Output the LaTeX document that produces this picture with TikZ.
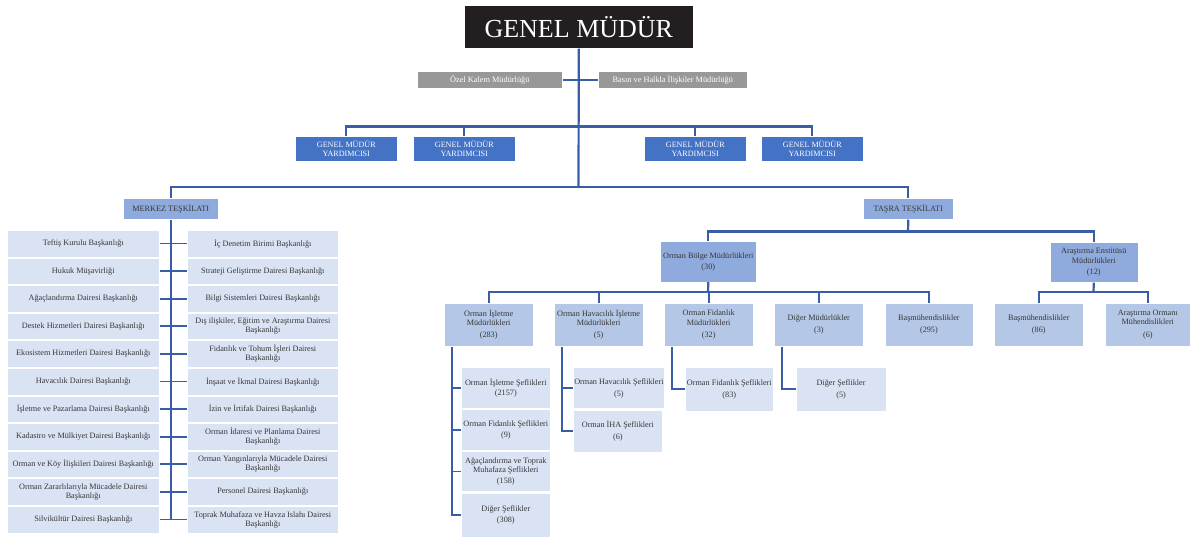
\documentclass[tikz,border=0pt]{standalone}
\usepackage{fontspec}
\setmainfont{Liberation Serif}
\definecolor{gmblack}{RGB}{35,31,32}
\definecolor{grayb}{RGB}{152,152,152}
\definecolor{blueA}{RGB}{68,114,196}
\definecolor{blueB}{RGB}{143,170,220}
\definecolor{blueC}{RGB}{180,199,231}
\definecolor{blueD}{RGB}{218,227,243}
\definecolor{linec}{RGB}{58,94,166}
\definecolor{textc}{RGB}{55,55,55}
\begin{document}
\begin{tikzpicture}[x=1pt,y=-1pt,
  box/.style={anchor=north west, inner sep=1pt, align=center, draw=white, line width=0.6pt},
  gmbox/.style={box, fill=gmblack, text=white, font=\fontsize{26}{28}\selectfont},
  graybox/.style={box, fill=grayb, text=white, font=\fontsize{8.3}{9}\selectfont},
  gmybox/.style={box, fill=blueA, text=white, font=\fontsize{8.1}{9}\selectfont},
  midbox/.style={box, fill=blueB, text=textc, font=\fontsize{8.2}{9.4}\selectfont},
  subbox/.style={box, fill=blueC, text=textc, font=\fontsize{8.2}{9.2}\selectfont},
  leafbox/.style={box, fill=blueD, text=textc, font=\fontsize{8.2}{9}\selectfont},
  lbox/.style={leafbox, minimum height=26.5},
  conn/.style={draw=linec, line width=2.2pt},
  thin/.style={draw=linec, line width=1.8pt}]
\useasboundingbox (0,0) rectangle (1190,537);

% top
\node[gmbox, minimum width=229, minimum height=43] (gm) at (464,5) {GENEL MÜDÜR};
\node[graybox, minimum width=145, minimum height=17] (ozel) at (417,71) {Özel Kalem Müdürlüğü};
\node[graybox, minimum width=149, minimum height=17] (basin) at (598,71) {Basın ve Halkla İlişkiler Müdürlüğü};

\node[gmybox, minimum width=102, minimum height=25] (gmy1) at (295,136) {GENEL MÜDÜR\\YARDIMCISI};
\node[gmybox, minimum width=102, minimum height=25] (gmy2) at (413,136) {GENEL MÜDÜR\\YARDIMCISI};
\node[gmybox, minimum width=102, minimum height=25] (gmy3) at (644,136) {GENEL MÜDÜR\\YARDIMCISI};
\node[gmybox, minimum width=102, minimum height=25] (gmy4) at (761,136) {GENEL MÜDÜR\\YARDIMCISI};

\node[midbox, minimum width=95, minimum height=21] (merkez) at (123,198) {MERKEZ TEŞKİLATI};
\node[midbox, minimum width=90, minimum height=21] (tasra) at (863,198) {TAŞRA TEŞKİLATI};

\coordinate (bus1) at (578.5,126.5);
\coordinate (bus2) at (578.5,187);
\draw[conn] (gm.south) -- (bus2);
\draw[thin] (ozel.east) -- (basin.west);
\draw[conn] (gmy1.north) |- (bus1) -| (gmy4.north);
\draw[conn] (gmy2.north) -- (gmy2.north |- bus1);
\draw[conn] (gmy3.north) -- (gmy3.north |- bus1);
\draw[conn] (merkez.north) |- (bus2) -| (tasra.north);

% merkez lists
\node[lbox, minimum width=152] (L1) at (7,230) {Teftiş Kurulu Başkanlığı};
\node[lbox, minimum width=152] (L2) at (7,257.6) {Hukuk Müşavirliği};
\node[lbox, minimum width=152] (L3) at (7,285.2) {Ağaçlandırma Dairesi Başkanlığı};
\node[lbox, minimum width=152] (L4) at (7,312.8) {Destek Hizmetleri Dairesi Başkanlığı};
\node[lbox, minimum width=152] (L5) at (7,340.4) {Ekosistem Hizmetleri Dairesi Başkanlığı};
\node[lbox, minimum width=152] (L6) at (7,368) {Havacılık Dairesi Başkanlığı};
\node[lbox, minimum width=152] (L7) at (7,395.6) {İşletme ve Pazarlama Dairesi Başkanlığı};
\node[lbox, minimum width=152] (L8) at (7,423.2) {Kadastro ve Mülkiyet Dairesi Başkanlığı};
\node[lbox, minimum width=152] (L9) at (7,450.8) {Orman ve Köy İlişkileri Dairesi Başkanlığı};
\node[lbox, minimum width=152] (L10) at (7,478.4) {Orman Zararlılarıyla Mücadele Dairesi\\Başkanlığı};
\node[lbox, minimum width=152] (L11) at (7,506) {Silvikültür Dairesi Başkanlığı};

\node[lbox, minimum width=151] (R1) at (187,230) {İç Denetim Birimi Başkanlığı};
\node[lbox, minimum width=151] (R2) at (187,257.6) {Strateji Geliştirme Dairesi Başkanlığı};
\node[lbox, minimum width=151] (R3) at (187,285.2) {Bilgi Sistemleri Dairesi Başkanlığı};
\node[lbox, minimum width=151] (R4) at (187,312.8) {Dış ilişkiler, Eğitim ve Araştırma Dairesi\\Başkanlığı};
\node[lbox, minimum width=151] (R5) at (187,340.4) {Fidanlık ve Tohum İşleri Dairesi\\Başkanlığı};
\node[lbox, minimum width=151] (R6) at (187,368) {İnşaat ve İkmal Dairesi Başkanlığı};
\node[lbox, minimum width=151] (R7) at (187,395.6) {İzin ve İrtifak Dairesi Başkanlığı};
\node[lbox, minimum width=151] (R8) at (187,423.2) {Orman İdaresi ve Planlama Dairesi\\Başkanlığı};
\node[lbox, minimum width=151] (R9) at (187,450.8) {Orman Yangınlarıyla Mücadele Dairesi\\Başkanlığı};
\node[lbox, minimum width=151] (R10) at (187,478.4) {Personel Dairesi Başkanlığı};
\node[lbox, minimum width=151] (R11) at (187,506) {Toprak Muhafaza ve Havza Islahı Dairesi\\Başkanlığı};

\draw[conn] (merkez.south) -- (merkez.south |- L11.east);
\foreach \i in {1,...,11} { \draw[thin] (L\i.east) -- (R\i.west); }

% tasra
\node[midbox, minimum width=96, minimum height=40] (obm) at (660,241.5) {Orman Bölge Müdürlükleri\\[2pt](30)};
\node[midbox, minimum width=88, minimum height=40] (aem) at (1049.5,242) {Araştırma Enstitüsü\\Müdürlükleri\\[2pt](12)};

\coordinate (bus3) at (908,231.5);
\draw[conn] (tasra.south) -- (bus3);
\draw[conn] (obm.north) |- (bus3) -| (aem.north);

\node[subbox, minimum width=88.7, minimum height=43.5] (oim) at (444,302.5) {Orman İşletme\\Müdürlükleri\\[3pt](283)};
\node[subbox, minimum width=88.7, minimum height=43.5] (ohm) at (554,302.5) {Orman Havacılık İşletme\\Müdürlükleri\\[3pt](5)};
\node[subbox, minimum width=88.7, minimum height=43.5] (ofm) at (664,302.5) {Orman Fidanlık\\Müdürlükleri\\[3pt](32)};
\node[subbox, minimum width=89, minimum height=43.5] (dm) at (774,302.5) {Diğer Müdürlükler\\[3pt](3)};
\node[subbox, minimum width=88, minimum height=43.5] (bm1) at (884.6,302.5) {Başmühendislikler\\[3pt](295)};
\node[subbox, minimum width=89, minimum height=43.5] (bm2) at (994,302.5) {Başmühendislikler\\[3pt](86)};
\node[subbox, minimum width=85, minimum height=43.5] (aom) at (1105,302.5) {Araştırma Ormanı\\Mühendislikleri\\[3pt](6)};

\coordinate (bus4) at (708,292);
\coordinate (bus5) at (1093.5,292);
\draw[conn] (obm.south) -- (bus4);
\draw[conn] (oim.north) |- (bus4) -| (bm1.north);
\draw[conn] (ohm.north) -- (ohm.north |- bus4);
\draw[conn] (ofm.north) -- (ofm.north |- bus4);
\draw[conn] (dm.north) -- (dm.north |- bus4);
\draw[conn] (aem.south) -- (bus5);
\draw[conn] (bm2.north) |- (bus5) -| (aom.north);

% third level
\node[leafbox, minimum width=89, minimum height=40.5] (c1) at (461,367.3) {Orman İşletme Şeflikleri\\[1pt](2157)};
\node[leafbox, minimum width=89, minimum height=40.5] (c2) at (461,409.1) {Orman Fidanlık Şeflikleri\\[2pt](9)};
\node[leafbox, minimum width=89, minimum height=40.5] (c3) at (461,450.9) {Ağaçlandırma ve Toprak\\Muhafaza Şeflikleri\\[2pt](158)};
\node[leafbox, minimum width=89, minimum height=44] (c4) at (461,492.7) {Diğer Şeflikler\\[2pt](308)};

\node[leafbox, minimum width=89, minimum height=41] (h1) at (573,367.3) {Orman Havacılık Şeflikleri\\[3pt](5)};
\node[leafbox, minimum width=89, minimum height=42.5] (h2) at (573,409.5) {Orman İHA Şeflikleri\\[3pt](6)};

\node[leafbox, minimum width=88, minimum height=43.5] (f1) at (685,367.3) {Orman Fidanlık Şeflikleri\\[3pt](83)};
\node[leafbox, minimum width=89.5, minimum height=43.5] (d1) at (796,367.3) {Diğer Şeflikler\\[3pt](5)};

\coordinate (v1) at ([xshift=8pt]oim.south west);
\coordinate (v2) at ([xshift=8pt]ohm.south west);
\coordinate (v3) at ([xshift=7.7pt]ofm.south west);
\coordinate (v4) at ([xshift=8pt]dm.south west);
\draw[thin] (v1) |- (c4.west);
\draw[thin] (v1 |- c1.west) -- (c1.west);
\draw[thin] (v1 |- c2.west) -- (c2.west);
\draw[thin] (v1 |- c3.west) -- (c3.west);
\draw[thin] (v2) |- (h2.west);
\draw[thin] (v2 |- h1.west) -- (h1.west);
\draw[thin] (v3) |- (f1.west);
\draw[thin] (v4) |- (d1.west);
\end{tikzpicture}
\end{document}
